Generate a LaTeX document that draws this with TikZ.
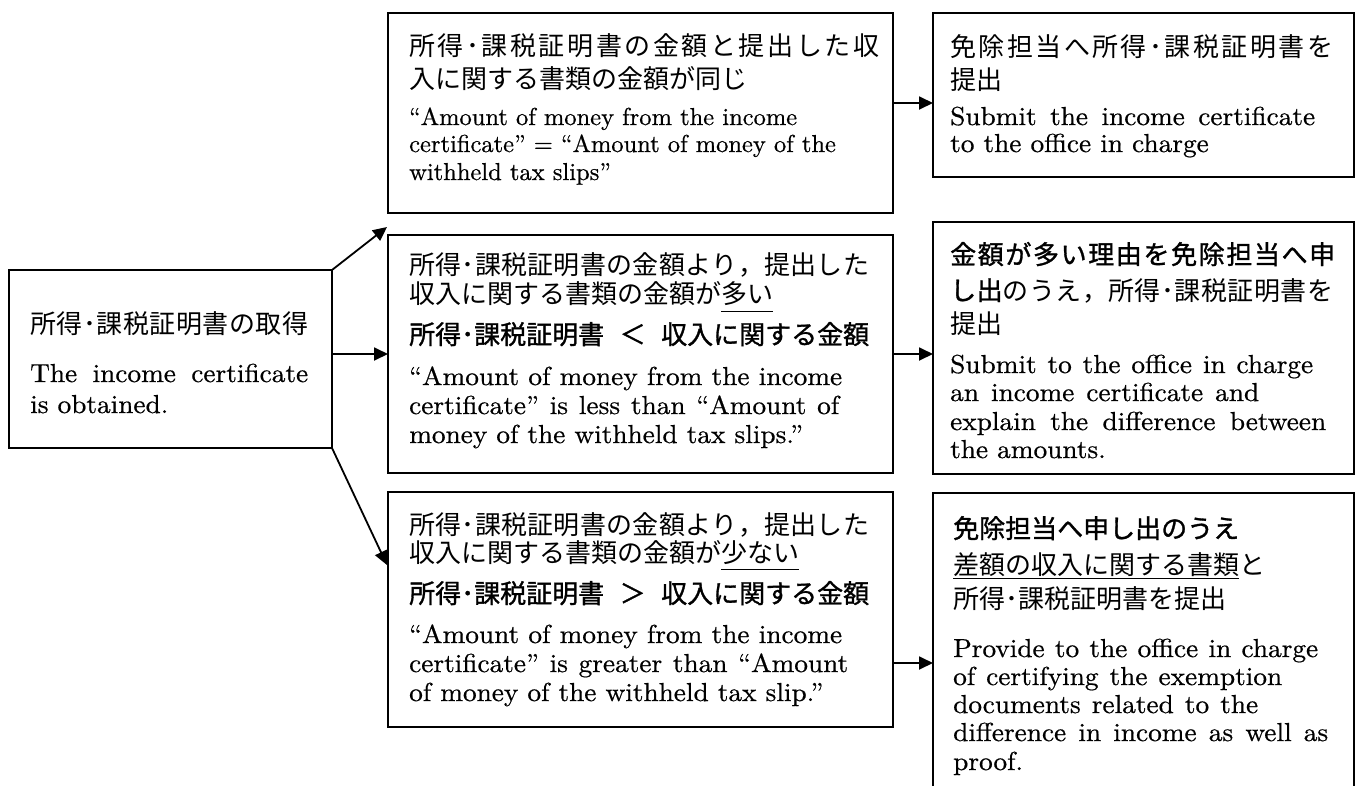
\documentclass[tikz,border=0pt]{standalone}
\usepackage{fontspec}
\usetikzlibrary{arrows.meta}
\newfontfamily\jm{Noto Sans CJK JP}
\newfontfamily\jg{Noto Sans CJK JP}[FakeBold=1.2]
\newfontfamily\enx{lmroman10-regular.otf}[FakeStretch=1.05,FakeBold=0.6]
\newfontfamily\ens{lmroman10-regular.otf}[FakeBold=0.6]
% inter-character stretch for CJK characters
\makeatletter
\count@="3000
\loop\ifnum\count@<"A000 \XeTeXcharclass\count@=7 \advance\count@ by 1 \repeat
\count@="FF00
\loop\ifnum\count@<"FFF0 \XeTeXcharclass\count@=7 \advance\count@ by 1 \repeat
\makeatother
\XeTeXinterchartoks 7 7 = {\hskip 0pt plus 1fil\relax}
\XeTeXinterchartokenstate=1
\newcommand\sline[2]{\makebox[#1pt][s]{#2}}
\newsavebox\ulbox
\newcommand\jul[2][8pt]{\sbox\ulbox{#2}\rlap{\rule[-#1]{\wd\ulbox}{1.5pt}}\usebox\ulbox}
\tikzset{
  box/.style={draw, line width=1.8pt, rectangle, inner sep=0pt, outer sep=0pt},
  jt/.style={inner sep=0pt, anchor=base west, font=\jm\fontsize{26}{30}\selectfont},
  gt/.style={inner sep=0pt, anchor=base west, font=\jg\fontsize{26}{30}\selectfont},
  et/.style={inner sep=0pt, anchor=base west, font=\ens\fontsize{24.5}{28}\selectfont},
  ett/.style={inner sep=0pt, anchor=base west, font=\enx\fontsize{26}{29}\selectfont},
  arr/.style={line width=1.8pt, -{Triangle[length=14pt,width=13pt]}}
}
\begin{document}
\begin{tikzpicture}[x=1pt,y=-1pt]
\useasboundingbox (0,0) rectangle (1361,785);
\fill[white] (0,0) rectangle (1361,785);
% boxes
\node[box, minimum width=323pt, minimum height=178pt] (L) at (170.5,359) {};
\node[box, minimum width=505pt, minimum height=200pt] (TM) at (640.5,113) {};
\node[box, minimum width=421pt, minimum height=164pt] (TR) at (1143.5,95) {};
\node[box, minimum width=505pt, minimum height=238pt] (M) at (640.5,354) {};
\node[box, minimum width=421pt, minimum height=252pt] (MR) at (1143.5,348) {};
\node[box, minimum width=505pt, minimum height=235pt] (B) at (640.5,609.5) {};
\node[box, minimum width=421pt, minimum height=307pt] (BR) at (1143.5,646.5) {};
% left box text
\node[jt] (l1) at (30,333) {\sline{278}{所得･課税証明書の取得}};
\node[ett] (l2) at (30,382) {\sline{278}{The income certificate}};
\node[ett] (l3) at (30,413) {is obtained.};
% top middle
\node[jt] (tm1) at (409,55) {\sline{470}{所得･課税証明書の金額と提出した収}};
\node[jt] (tm2) at (409,88) {入に関する書類の金額が同じ};
\node[et] (tm3) at (409,125) {“Amount of money from the income};
\node[et] (tm4) at (409,152) {certificate” = “Amount of money of the};
\node[et] (tm5) at (409,180) {withheld tax slips”};
% top right
\node[jt] (tr1) at (950,56) {\sline{383}{免除担当へ所得･課税証明書を}};
\node[jt] (tr2) at (950,89) {提出};
\node[ett] (tr3) at (950,125) {\sline{365}{Submit the income certificate}};
\node[ett] (tr4) at (950,152) {to the office in charge};
% middle
\node[jt] (m1) at (409,274) {\sline{460}{所得･課税証明書の金額より，提出した}};
\node[jt] (m2) at (409,303) {収入に関する書類の金額が\jul[9pt]{多い}};
\node[gt] (m3) at (409,344) {所得･課税証明書\hspace{15.5pt}＜\hspace{15.5pt}収入に関する金額};
\node[ett] (m4) at (409,385) {\sline{433}{“Amount of money from the income}};
\node[ett] (m5) at (409,414) {\sline{430}{certificate” is less than “Amount of}};
\node[ett] (m6) at (409,443) {money of the withheld tax slips.”};
% middle right
\node[gt] (mr1) at (950,264) {\sline{385}{金額が多い理由を免除担当へ申}};
\node[jt] (mr2) at (950,300) {\sline{383}{{\jg し出}のうえ，所得･課税証明書を}};
\node[jt] (mr3) at (950,333) {提出};
\node[ett] (mr4) at (950,373) {\sline{363}{Submit to the office in charge}};
\node[ett] (mr5) at (950,401) {\sline{309}{an income certificate and}};
\node[ett] (mr6) at (950,430) {\sline{376}{explain the difference between}};
\node[ett] (mr7) at (950,458) {the amounts.};
% bottom
\node[jt] (b1) at (409,534) {\sline{460}{所得･課税証明書の金額より，提出した}};
\node[jt] (b2) at (409,562) {収入に関する書類の金額が\jul[8pt]{少ない}};
\node[gt] (b3) at (409,603) {所得･課税証明書\hspace{15.5pt}＞\hspace{15.5pt}収入に関する金額};
\node[ett] (b4) at (409,643) {\sline{433}{“Amount of money from the income}};
\node[ett] (b5) at (409,672) {\sline{439}{certificate” is greater than “Amount}};
\node[ett] (b6) at (409,701) {of money of the withheld tax slip.”};
% bottom right
\node[gt] (br1) at (953,538) {免除担当へ申し出のうえ};
\node[jt] (br2) at (953,574) {\jul[5pt]{差額の収入に関する書類}と};
\node[jt] (br3) at (953,608) {所得･課税証明書を提出};
\node[ett] (br4) at (953,657) {\sline{365}{Provide to the office in charge}};
\node[ett] (br5) at (953,685) {\sline{329}{of certifying the exemption}};
\node[ett] (br6) at (953,713) {\sline{305}{documents related to the}};
\node[ett] (br7) at (953,741) {\sline{375}{difference in income as well as}};
\node[ett] (br8) at (953,770) {proof.};
% connectors
\coordinate (g1) at (387,227);
\coordinate (g3) at (387,565);
\draw[arr] (L.north east) -- (g1);
\draw[arr] (L.east |- M.west) -- (M.west);
\draw[arr] (L.south east) -- (g3);
\draw[arr] (TM.east |- 0,103) -- (TR.west |- 0,103);
\draw[arr] (M.east) -- (MR.west |- M.east);
\draw[arr] (B.east |- 0,663) -- (BR.west |- 0,663);
\end{tikzpicture}
\end{document}
